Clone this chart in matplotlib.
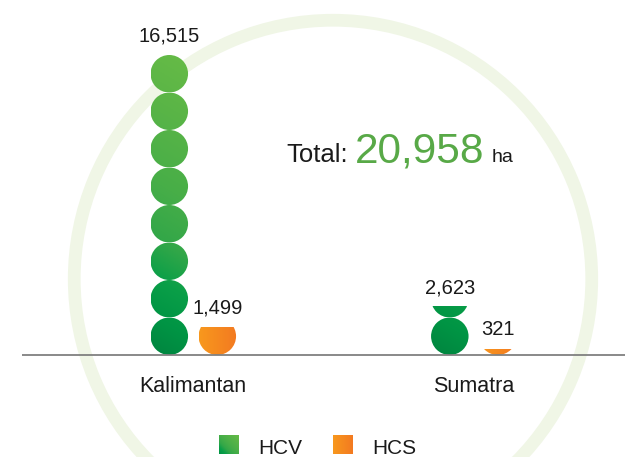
import numpy as np
import matplotlib
matplotlib.use("Agg")
import matplotlib.pyplot as plt
from matplotlib.patches import Circle, Wedge
from matplotlib.colors import LinearSegmentedColormap

plt.rcParams['font.family'] = ['Liberation Sans', 'DejaVu Sans']

# data
regions = ['Kalimantan', 'Sumatra']
hcv_ha = [16515, 2623]
hcs_ha = [1499, 321]
series_names = ['HCV', 'HCS']
HA_PER_CIRCLE = 2064  # one dot ~ 2,064 ha

# layout (units = one dot diameter)
PX = 37.5               # pixels per dot
GROUP_GAP = 7.48        # distance between region centres
BAR_OFF = 0.64          # dot column offset from region centre
MAX_DOTS = 8.5

green_cmap = LinearSegmentedColormap.from_list('hcv', [
    (0.0, '#00843f'), (0.12, '#009444'), (0.25, '#0a9f48'),
    (0.38, '#33a748'), (0.55, '#47ae48'), (0.78, '#58b447'), (1.0, '#66bb46')])
orange_cmap = LinearSegmentedColormap.from_list('hcs', ['#f8981d', '#f37a21'])


def green_grad(X, Y, xc):
    return np.clip((Y + 0.6 * (X - xc + 0.5)) / MAX_DOTS, 0, 1)


def orange_grad(X, Y, xc):
    return np.clip(X - xc + 0.5, 0, 1)


def draw_stack(ax, xc, value, cmap, gradfn):
    n = value / HA_PER_CIRCLE
    k = 0
    while n - k > 0.01:
        frac = min(1.0, n - k)
        circ = Circle((xc, k + 0.5), 0.5, transform=ax.transData,
                      facecolor='none', edgecolor='none')
        ax.add_patch(circ)
        xs = np.linspace(xc - 0.5, xc + 0.5, 60)
        ys = np.linspace(k, k + frac, 60)
        X, Y = np.meshgrid(xs, ys)
        im = ax.imshow(gradfn(X, Y, xc), origin='lower', cmap=cmap, vmin=0, vmax=1,
                       extent=(xc - 0.5, xc + 0.5, k, k + frac), aspect='auto',
                       interpolation='bilinear', zorder=3)
        im.set_clip_path(circ)
        k += 1
    top = n
    ax.annotate(f"{value:,}", xy=(xc, top), xytext=(0, 10), textcoords='offset points',
                ha='center', va='baseline', fontsize=14.5, color='#1a1a1a', zorder=5)


fig = plt.figure(figsize=(6.25, 4.57), dpi=100)
fig.patch.set_facecolor('white')
ax = fig.add_axes([0, 0, 1, 1])
ax.axis('off')

# background ring
ax.add_patch(Wedge((3.725, 2.027), 7.07, 0, 360, width=0.34,
                   facecolor='#f0f6e6', edgecolor='none', zorder=0))

xcent = np.arange(len(regions)) * GROUP_GAP
for i, reg in enumerate(regions):
    draw_stack(ax, xcent[i] - BAR_OFF, hcv_ha[i], green_cmap, green_grad)
    draw_stack(ax, xcent[i] + BAR_OFF, hcs_ha[i], orange_cmap, orange_grad)
    ax.text(xcent[i], -0.98, reg, ha='center', va='baseline', fontsize=15.5,
            color='#1a1a1a', zorder=5)

# baseline
ax.plot([-4.57, 20], [0, 0], color='#808080', lw=1.3, zorder=4, solid_capstyle='butt')

ax.set_xlim(-193.3 / PX, (625 - 193.3) / PX)
ax.set_ylim(-(457 - 355) / PX, 355 / PX)

# total
total = sum(hcv_ha) + sum(hcs_ha)
t1 = ax.text(2.49, 5.14, 'Total:', ha='left', va='baseline', fontsize=18.5, color='#1a1a1a')
fig.canvas.draw()
r = fig.canvas.get_renderer()
bb = t1.get_window_extent(r)
x2 = ax.transData.inverted().transform((bb.x1 + 7, 0))[0]
t2 = ax.text(x2, 5.14, f"{total:,}", ha='left', va='baseline', fontsize=30.5, color='#58a947')
fig.canvas.draw()
bb = t2.get_window_extent(r)
x3 = ax.transData.inverted().transform((bb.x1 + 7, 0))[0]
ax.text(x3, 5.14, 'ha', ha='left', va='baseline', fontsize=14, color='#1a1a1a')

# legend
W, H = 625.0, 457.0
leg = [(219.3, 258.0, series_names[0], green_cmap, 'diag'),
       (333.0, 372.0, series_names[1], orange_cmap, 'horiz')]
g = np.linspace(0, 1, 50)
GX, GY = np.meshgrid(g, g)
for sx, tx, name, cmap, mode in leg:
    lax = fig.add_axes([sx / W, (H - 454.5) / H, 19.7 / W, 19.5 / H])
    lax.axis('off')
    if mode == 'diag':
        grad = 0.1 + 0.9 * (GX + GY) / 2
    else:
        grad = GX
    lax.imshow(grad, origin='lower', cmap=cmap, vmin=0, vmax=1, aspect='auto',
               extent=(0, 1, 0, 1), interpolation='bilinear')
    fig.text(tx / W, (H - 454) / H, name, ha='left', va='baseline', fontsize=15,
             color='#1a1a1a')

fig.savefig('out.png', dpi=100, facecolor='white')
